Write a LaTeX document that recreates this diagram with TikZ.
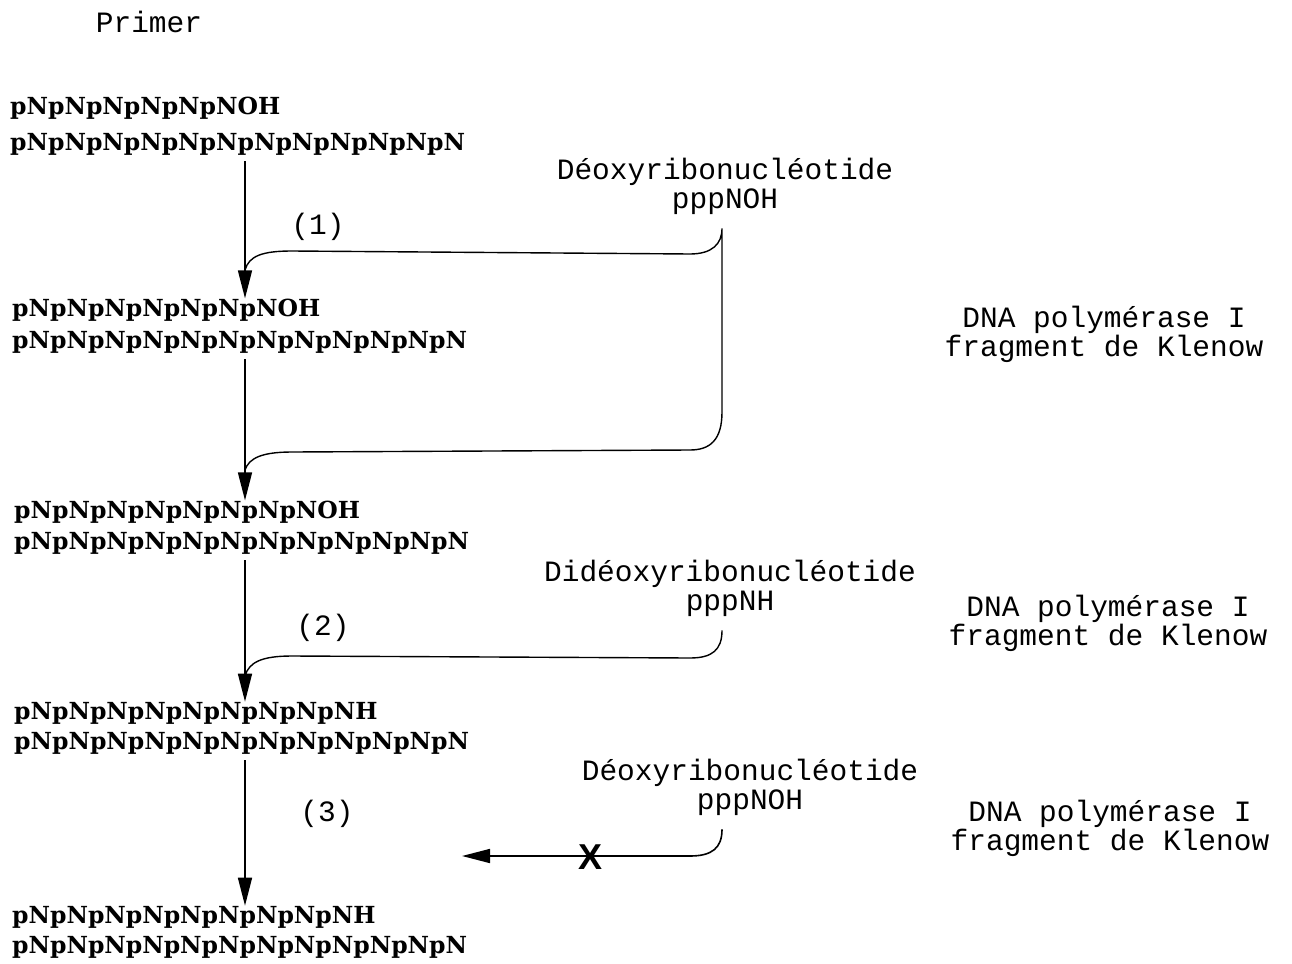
\documentclass[tikz,border=0pt]{standalone}
\usepackage{fontspec}
\setmonofont{Liberation Mono}
\newfontfamily\slabfont{DejaVu Serif}
\newfontfamily\crossfont{Liberation Sans}
\usetikzlibrary{arrows.meta,calc,positioning}

\tikzset{
  strand/.style={anchor=base west, inner sep=0pt, font=\slabfont\bfseries\fontsize{23.5}{23}\selectfont},
  lbl/.style={inner sep=0pt, font=\ttfamily\fontsize{29.5}{29}\selectfont},
  enzyme/.style={lbl, align=center},
  flow/.style={line width=1.6pt, -{Triangle[length=28pt,width=14pt]}},
  feed/.style={line width=1.4pt},
}

\begin{document}
\begin{tikzpicture}[x=1pt,y=-1pt]
  \useasboundingbox (0,0) rectangle (1292,963);
  \node[lbl] (primer) at (149,22) {Primer};

  % duplexes
  \node[strand] (s1a) at (10,115) {pNpNpNpNpNpNOH};
  \node[strand] (s1b) at (10,150) {pNpNpNpNpNpNpNpNpNpNpNpN};
  \node[strand] (s2a) at (12,316) {pNpNpNpNpNpNpNOH};
  \node[strand] (s2b) at (12,348) {pNpNpNpNpNpNpNpNpNpNpNpN};
  \node[strand] (s3a) at (14,518) {pNpNpNpNpNpNpNpNOH};
  \node[strand] (s3b) at (14,549) {pNpNpNpNpNpNpNpNpNpNpNpN};
  \node[strand] (s4a) at (14,719) {pNpNpNpNpNpNpNpNpNH};
  \node[strand] (s4b) at (14,749) {pNpNpNpNpNpNpNpNpNpNpNpN};
  \node[strand] (s5a) at (12,923) {pNpNpNpNpNpNpNpNpNH};
  \node[strand] (s5b) at (12,953) {pNpNpNpNpNpNpNpNpNpNpNpN};

  % nucleotides
  \node[enzyme] (r1) at (725,186) {Déoxyribonucléotide\\pppNOH};
  \node[enzyme] (r2) at (730,588) {Didéoxyribonucléotide\\pppNH};
  \node[enzyme] (r3) at (750,787) {Déoxyribonucléotide\\pppNOH};

  % enzymes
  \node[enzyme] (e1) at (1104,334) {DNA polymérase I\\fragment de Klenow};
  \node[enzyme] (e2) at (1108,623) {DNA polymérase I\\fragment de Klenow};
  \node[enzyme] (e3) at (1110,828) {DNA polymérase I\\fragment de Klenow};

  \node[lbl] (n1) at (318,227) {(1)};
  \node[lbl] (n2) at (323,628) {(2)};
  \node[lbl] (n3) at (327,814) {(3)};

  % steps
  \coordinate (axis) at (245,0);
  \draw[flow] ($(s1b.south -| axis)+(0,6)$) -- (s2a.north -| axis);
  \draw[flow] ($(s2b.south -| axis)+(0,6)$) -- (s3a.north -| axis);
  \draw[flow] ($(s3b.south -| axis)+(0,6)$) -- (s4a.north -| axis);
  \draw[flow] ($(s4b.south -| axis)+(0,6)$) -- (s5a.north -| axis);

  \coordinate (m1) at (245,270);
  \coordinate (m2) at (245,470);
  \coordinate (m3) at (245,676);
  \coordinate (stop) at (462,856);

  \draw[feed] (m1) .. controls (249,256) and (262,251) .. (292,251) -- (690,254)
    .. controls (712,254) and (722,244) .. ($(r1.south -| 722,0)+(0,14)$) -- (722,412)
    .. controls (722,440) and (710,450) .. (690,450) -- (292,452)
    .. controls (262,452) and (249,458) .. (m2);
  \draw[feed] (m3) .. controls (249,662) and (262,656) .. (292,656) -- (690,658)
    .. controls (712,658) and (722,650) .. ($(r2.south -| 722,0)+(0,14)$);
  \draw[flow] ($(r3.south -| 722,0)+(0,14)$) .. controls (722,848) and (712,856) .. (690,856) -- (stop);
  \node[inner sep=0pt, font=\crossfont\bfseries\fontsize{36}{36}\selectfont] (cross) at (590,857) {X};
\end{tikzpicture}
\end{document}
